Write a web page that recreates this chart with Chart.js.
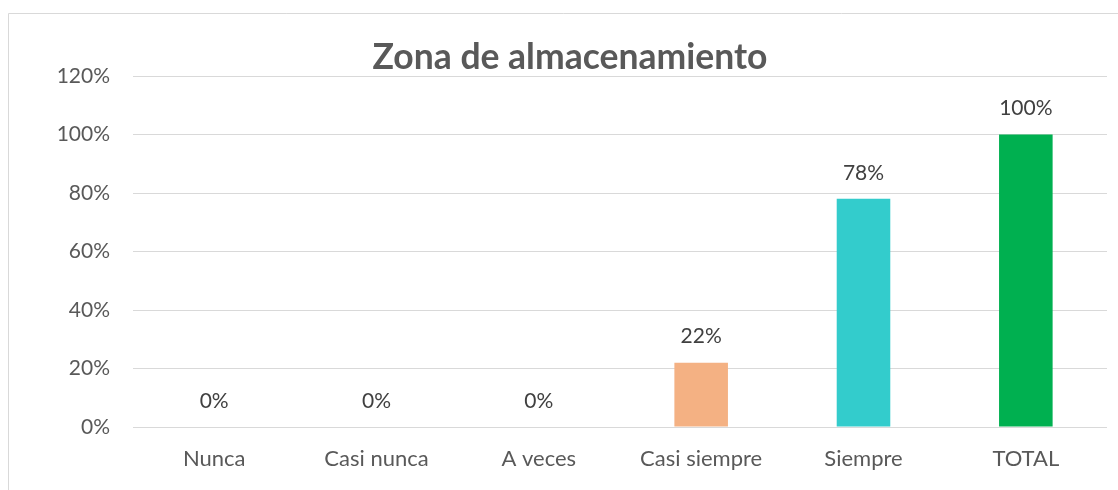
<!DOCTYPE html>
<html>
<head>
<meta charset="utf-8">
<script src="https://cdn.jsdelivr.net/npm/chart.js@4"></script>
<style>
  html, body { margin: 0; padding: 0; background: #fff; }
  #wrap { width: 1118px; height: 490px; }
</style>
</head>
<body>
<div id="wrap"><canvas id="zonaChart" width="1118" height="490"></canvas></div>
<script>
// Data
const categories = ['Nunca', 'Casi nunca', 'A veces', 'Casi siempre', 'Siempre', 'TOTAL'];
const percentValues = [0, 0, 0, 22, 78, 100];
const barColors = ['#F4B183', '#F4B183', '#F4B183', '#F4B183', '#33CCCC', '#00B050'];
const yTicks = [0, 20, 40, 60, 80, 100, 120];

const fontFamily = 'Lato, "Open Sans", sans-serif';

// light frame around the chart (its right and bottom edges fall outside the picture)
const framePlugin = {
    id: 'frame',
    beforeDraw(chart) {
        const c = chart.ctx;
        c.save();
        c.fillStyle = '#ffffff';
        c.fillRect(0, 0, chart.width, chart.height);
        c.strokeStyle = '#d9d9d9';
        c.lineWidth = 1;
        c.beginPath();
        c.moveTo(8.5, chart.height + 5);
        c.lineTo(8.5, 13.5);
        c.lineTo(chart.width + 5, 13.5);
        c.stroke();
        c.restore();
    }
};

// value labels above each bar
const valueLabels = {
    id: 'valueLabels',
    afterDatasetsDraw(chart) {
        const c = chart.ctx;
        const meta = chart.getDatasetMeta(0);
        c.save();
        c.fillStyle = '#404040';
        c.font = '21px ' + fontFamily;
        c.textAlign = 'center';
        c.textBaseline = 'middle';
        meta.data.forEach((bar, i) => {
            c.fillText(percentValues[i] + '%', bar.x, bar.y - 26);
        });
        c.restore();
    }
};

const ctx = document.getElementById('zonaChart').getContext('2d');
const zonaChart = new Chart(ctx, {
    type: 'bar',
    data: {
        labels: categories,
        datasets: [{
            data: percentValues,
            backgroundColor: barColors,
            borderWidth: 0,
            categoryPercentage: 1,
            barPercentage: 0.33
        }]
    },
    options: {
        responsive: false,
        animation: false,
        layout: {
            padding: { top: 13, left: 33, right: 11, bottom: 13 }
        },
        plugins: {
            legend: { display: false },
            tooltip: { enabled: false },
            title: {
                display: true,
                text: 'Zona de almacenamiento',
                color: '#595959',
                font: { family: fontFamily, size: 35.5, weight: 'bold', lineHeight: 1.0 },
                padding: { top: 27, bottom: 0.5 }
            }
        },
        scales: {
            x: {
                grid: { display: false, drawTicks: false },
                border: { display: false },
                ticks: {
                    color: '#595959',
                    font: { family: fontFamily, size: 22 },
                    padding: 19,
                    maxRotation: 0
                },
                afterFit(scale) { scale.height = 50; }
            },
            y: {
                min: 0,
                max: 120,
                grid: { color: '#d9d9d9', lineWidth: 1, drawTicks: false },
                border: { display: false },
                afterBuildTicks(scale) {
                    scale.ticks = yTicks.map(v => ({ value: v }));
                },
                ticks: {
                    color: '#595959',
                    font: { family: fontFamily, size: 21 },
                    padding: 23,
                    callback: v => v + '%'
                },
                afterFit(scale) { scale.width = 100; }
            }
        }
    },
    plugins: [framePlugin, valueLabels]
});
</script>
</body>
</html>
